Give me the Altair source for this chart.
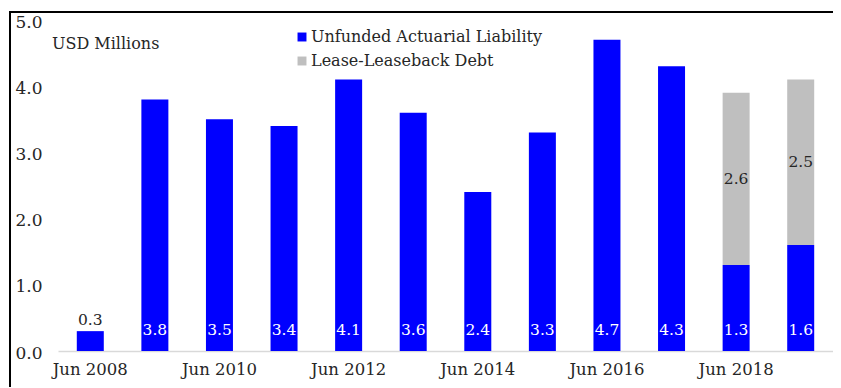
import altair as alt
import pandas as pd

years = ["Jun 2008", "Jun 2009", "Jun 2010", "Jun 2011", "Jun 2012", "Jun 2013",
         "Jun 2014", "Jun 2015", "Jun 2016", "Jun 2017", "Jun 2018", "Jun 2019"]
ual = [0.3, 3.8, 3.5, 3.4, 4.1, 3.6, 2.4, 3.3, 4.7, 4.3, 1.3, 1.6]
lld = [None, None, None, None, None, None, None, None, None, None, 2.6, 2.5]
series = ["Unfunded Actuarial Liability", "Lease-Leaseback Debt"]
xticks = ["Jun 2008", "Jun 2010", "Jun 2012", "Jun 2014", "Jun 2016", "Jun 2018"]
yticks = [0, 1, 2, 3, 4, 5]

rows = []
for i, yr in enumerate(years):
    rows.append({"year": yr, "series": series[0], "value": ual[i], "order": 0})
    if lld[i] is not None:
        rows.append({"year": yr, "series": series[1], "value": lld[i], "order": 1})
df = pd.DataFrame(rows)
lab = pd.DataFrame({"year": years, "ual": ual, "lld": lld})

FONT = "DejaVu Serif"
TXT = "#262626"
W, H = 775, 331

xenc = alt.X("year:N", sort=years,
             scale=alt.Scale(paddingInner=0, paddingOuter=0),
             axis=alt.Axis(title=None, labelAngle=0, ticks=False, values=xticks,
                           domainColor="#d9d9d9", domainWidth=1.5, labelPadding=10,
                           labelFontSize=16.5, labelColor=TXT, labelFont=FONT))

bars = alt.Chart(df).mark_bar(size=27).encode(
    x=xenc,
    y=alt.Y("value:Q", stack="zero", scale=alt.Scale(domain=[0, 5], nice=False),
            axis=alt.Axis(title=None, values=yticks, format=".1f", domain=False,
                          ticks=False, grid=False, labelPadding=16, labelFontSize=17,
                          labelColor=TXT, labelFont=FONT, labelOffset=2)),
    color=alt.Color("series:N", scale=alt.Scale(domain=series, range=["#0000FF", "#BFBFBF"]),
                    legend=alt.Legend(title=None, orient="none", legendX=236, legendY=9,
                                      symbolType="square", symbolSize=80, labelFontSize=16,
                                      labelFont=FONT, labelColor=TXT, rowPadding=8,
                                      symbolStrokeWidth=0, padding=0, labelOffset=1,
                                      labelLimit=500)),
    order=alt.Order("order:Q"),
)

base_lab = alt.Chart(lab)

in_lab = base_lab.transform_filter("datum.ual >= 1").mark_text(
    color="white", fontSize=15.5, font=FONT, dy=-21, baseline="middle").encode(
    x=alt.X("year:N", sort=years), y=alt.datum(0), text=alt.Text("ual:Q", format=".1f"))

small_lab = base_lab.transform_filter("datum.ual < 1").mark_text(
    color=TXT, fontSize=15.5, font=FONT, dy=-11, baseline="middle").encode(
    x=alt.X("year:N", sort=years), y=alt.Y("ual:Q"), text=alt.Text("ual:Q", format=".1f"))

gray_lab = base_lab.transform_filter("datum.lld != null").transform_calculate(
    mid="datum.ual + datum.lld / 2").mark_text(
    color=TXT, fontSize=15.5, font=FONT, baseline="middle").encode(
    x=alt.X("year:N", sort=years), y=alt.Y("mid:Q"), text=alt.Text("lld:Q", format=".1f"))

unit = base_lab.transform_filter("datum.year == 'Jun 2008'").mark_text(
    text="USD Millions", color=TXT, fontSize=16, font=FONT, align="left",
    baseline="middle").encode(x=alt.value(-6), y=alt.value(24))

one = pd.DataFrame({"k": [0]})
frame_left = alt.Chart(one).mark_rule(color="black", strokeWidth=2).encode(
    x=alt.value(-48), y=alt.value(-8), y2=alt.value(420))
frame_top = alt.Chart(one).mark_rule(color="black", strokeWidth=2).encode(
    x=alt.value(-49), x2=alt.value(800), y=alt.value(-8))

chart = alt.layer(bars, in_lab, small_lab, gray_lab, unit, frame_left, frame_top).properties(
    width=W, height=H,
    autosize=alt.AutoSizeParams(type="none"),
    padding={"left": 50, "top": 12, "right": 0, "bottom": 36},
).configure_view(stroke=None)

chart.save("out.html", embed_options={"renderer": "svg", "actions": False})
